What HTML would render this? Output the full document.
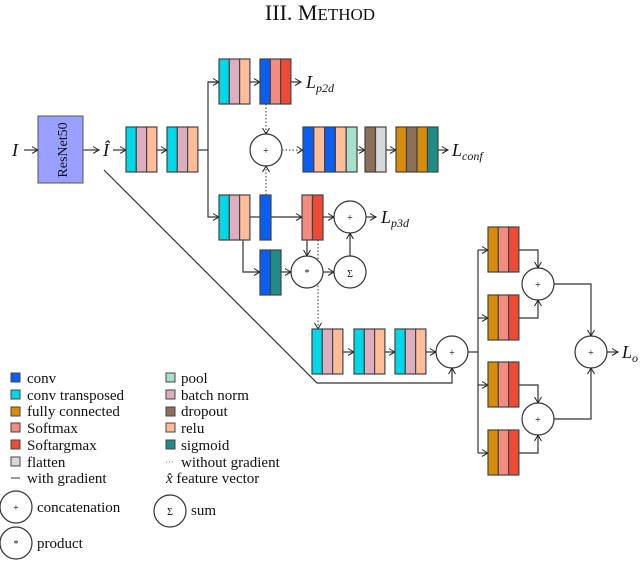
<!DOCTYPE html>
<html><head><meta charset="utf-8"><style>body{margin:0;background:#fff}svg{display:block}text{font-family:"Liberation Serif",serif;fill:#111}</style></head><body>
<svg width="640" height="561" viewBox="0 0 640 561" xmlns="http://www.w3.org/2000/svg">
<defs><marker id="a" markerWidth="8" markerHeight="8" refX="7" refY="4" orient="auto" markerUnits="userSpaceOnUse"><path d="M1,0.5 Q5,3 7,4 Q5,5 1,7.5" fill="none" stroke="#222" stroke-width="1"/></marker></defs>
<text x="320" y="20" text-anchor="middle" font-size="22">III. M<tspan font-size="17">ETHOD</tspan></text>
<g stroke="#333" stroke-width="1.2" fill="none">
<line x1="24" y1="150" x2="38" y2="150" marker-end="url(#a)"/>
<line x1="83" y1="150" x2="99" y2="150" marker-end="url(#a)"/>
<line x1="113" y1="150" x2="126" y2="150" marker-end="url(#a)"/>
<line x1="157" y1="150" x2="167" y2="150" marker-end="url(#a)"/>
<polyline points="198,150 208,150"/>
<polyline points="219,82 208,82 208,217 219,217" marker-end="url(#a)"/>
<line x1="208" y1="82" x2="219" y2="82" marker-end="url(#a)"/>
<line x1="250" y1="82" x2="260" y2="82" marker-end="url(#a)"/>
<line x1="291" y1="82" x2="301" y2="82" marker-end="url(#a)"/>
<line x1="357" y1="150" x2="365" y2="150" marker-end="url(#a)"/>
<line x1="386" y1="150" x2="396" y2="150" marker-end="url(#a)"/>
<line x1="438" y1="150" x2="448" y2="150" marker-end="url(#a)"/>
<line x1="250" y1="217" x2="260" y2="217"/>
<line x1="271" y1="217" x2="302" y2="217" marker-end="url(#a)"/>
<line x1="323" y1="217" x2="334" y2="217" marker-end="url(#a)"/>
<line x1="366" y1="217" x2="376" y2="217" marker-end="url(#a)"/>
<polyline points="243,240 243,272 260,272" marker-end="url(#a)"/>
<line x1="281" y1="272" x2="291" y2="272" marker-end="url(#a)"/>
<line x1="323" y1="272" x2="334" y2="272" marker-end="url(#a)"/>
<line x1="350" y1="256" x2="350" y2="233" marker-end="url(#a)"/>
<line x1="307" y1="240" x2="307" y2="256" marker-end="url(#a)"/>
<line x1="343" y1="352" x2="354" y2="352" marker-end="url(#a)"/>
<line x1="385" y1="352" x2="395" y2="352" marker-end="url(#a)"/>
<line x1="426" y1="352" x2="436" y2="352" marker-end="url(#a)"/>
<polyline points="104,170 317,383 452,383 452,368" marker-end="url(#a)"/>
<line x1="468" y1="352" x2="478" y2="352"/>
<line x1="478" y1="250" x2="478" y2="453"/>
<line x1="478" y1="250" x2="488" y2="250" marker-end="url(#a)"/>
<line x1="478" y1="318" x2="488" y2="318" marker-end="url(#a)"/>
<line x1="478" y1="385" x2="488" y2="385" marker-end="url(#a)"/>
<line x1="478" y1="453" x2="488" y2="453" marker-end="url(#a)"/>
<polyline points="519,250 538,250 538,268" marker-end="url(#a)"/>
<polyline points="519,318 538,318 538,300" marker-end="url(#a)"/>
<polyline points="519,385 538,385 538,403" marker-end="url(#a)"/>
<polyline points="519,453 538,453 538,435" marker-end="url(#a)"/>
<polyline points="554,284 591,284 591,336" marker-end="url(#a)"/>
<polyline points="554,419 591,419 591,368" marker-end="url(#a)"/>
<line x1="607" y1="352" x2="618" y2="352" marker-end="url(#a)"/>
<g stroke-dasharray="1.5,2" stroke-width="1">
<line x1="266" y1="104" x2="266" y2="134" marker-end="url(#a)"/>
<line x1="266" y1="195" x2="266" y2="166" marker-end="url(#a)"/>
<line x1="282" y1="150" x2="303" y2="150" marker-end="url(#a)"/>
<polyline points="318,240 318,310 318,329" marker-end="url(#a)"/>
</g>
<g fill="#fff">
<circle cx="266" cy="150" r="16"/><circle cx="350" cy="217" r="16"/><circle cx="307" cy="272" r="16"/><circle cx="350" cy="272" r="16"/>
<circle cx="452" cy="352" r="16"/><circle cx="538" cy="284" r="16"/><circle cx="538" cy="419" r="16"/><circle cx="591" cy="352" r="16"/>
<circle cx="16" cy="507" r="16"/><circle cx="170" cy="511" r="16"/><circle cx="16" cy="543" r="16"/>
</g>
</g>
<g font-size="10" text-anchor="middle" fill="#555"><text x="266" y="154">+</text><text x="350" y="221">+</text><text x="307" y="276">*</text><text x="350" y="277">Σ</text><text x="452" y="356">+</text><text x="538" y="288">+</text><text x="538" y="423">+</text><text x="591" y="356">+</text><text x="16" y="511">+</text><text x="170" y="515">Σ</text><text x="16" y="547">*</text></g>
<rect x="38" y="116" width="45" height="67" fill="#99a0ff" stroke="#555"/>
<text transform="translate(67,150) rotate(-90)" text-anchor="middle" font-size="14">ResNet50</text>
<g font-style="italic" font-size="18"><text x="12" y="156">I</text><text x="103" y="156">Î</text>
<text x="306" y="88">L<tspan font-size="12" dy="4">p2d</tspan></text>
<text x="452" y="156">L<tspan font-size="12" dy="4">conf</tspan></text>
<text x="381" y="223">L<tspan font-size="12" dy="4">p3d</tspan></text>
<text x="622" y="358">L<tspan font-size="12" dy="4">o</tspan></text></g>
<g stroke="#444" stroke-width="1.2" id="blocks">
<!-- helper stripes -->
<g transform="translate(126,127)"><rect width="10.3" height="45" fill="#00d8e8"/><rect x="10.3" width="10.3" height="45" fill="#dcaec0"/><rect x="20.6" width="10.3" height="45" fill="#ffbc98"/></g>
<g transform="translate(167,127)"><rect width="10.3" height="45" fill="#00d8e8"/><rect x="10.3" width="10.3" height="45" fill="#dcaec0"/><rect x="20.6" width="10.3" height="45" fill="#ffbc98"/></g>
<g transform="translate(219,59)"><rect width="10.3" height="45" fill="#00d8e8"/><rect x="10.3" width="10.3" height="45" fill="#dcaec0"/><rect x="20.6" width="10.3" height="45" fill="#ffbc98"/></g>
<g transform="translate(260,59)"><rect width="10.3" height="45" fill="#0a5ef0"/><rect x="10.3" width="10.3" height="45" fill="#f08c80"/><rect x="20.6" width="10.3" height="45" fill="#ee4a38"/></g>
<g transform="translate(303,127)"><rect width="10.8" height="45" fill="#0a5ef0"/><rect x="10.8" width="10.8" height="45" fill="#ffbc98"/><rect x="21.6" width="10.8" height="45" fill="#0a5ef0"/><rect x="32.4" width="10.8" height="45" fill="#ffbc98"/><rect x="43.2" width="10.8" height="45" fill="#a8e0cc"/></g>
<g transform="translate(365,127)"><rect width="10.5" height="45" fill="#8c7058"/><rect x="10.5" width="10.5" height="45" fill="#d8d8d8"/></g>
<g transform="translate(396,127)"><rect width="10.5" height="45" fill="#d88c0a"/><rect x="10.5" width="10.5" height="45" fill="#8c7058"/><rect x="21" width="10.5" height="45" fill="#d88c0a"/><rect x="31.5" width="10.5" height="45" fill="#208c88"/></g>
<g transform="translate(219,195)"><rect width="10.3" height="45" fill="#00d8e8"/><rect x="10.3" width="10.3" height="45" fill="#dcaec0"/><rect x="20.6" width="10.3" height="45" fill="#ffbc98"/></g>
<rect x="260" y="195" width="11" height="45" fill="#0a5ef0"/>
<g transform="translate(302,195)"><rect width="10.5" height="45" fill="#f08c80"/><rect x="10.5" width="10.5" height="45" fill="#ee4a38"/></g>
<g transform="translate(260,250)"><rect width="10.5" height="45" fill="#0a5ef0"/><rect x="10.5" width="10.5" height="45" fill="#208c88"/></g>
<g transform="translate(312,329)"><rect width="10.3" height="45" fill="#00d8e8"/><rect x="10.3" width="10.3" height="45" fill="#dcaec0"/><rect x="20.6" width="10.3" height="45" fill="#ffbc98"/></g>
<g transform="translate(354,329)"><rect width="10.3" height="45" fill="#00d8e8"/><rect x="10.3" width="10.3" height="45" fill="#dcaec0"/><rect x="20.6" width="10.3" height="45" fill="#ffbc98"/></g>
<g transform="translate(395,329)"><rect width="10.3" height="45" fill="#00d8e8"/><rect x="10.3" width="10.3" height="45" fill="#dcaec0"/><rect x="20.6" width="10.3" height="45" fill="#ffbc98"/></g>
<g transform="translate(488,227)"><rect width="10.3" height="45" fill="#d88c0a"/><rect x="10.3" width="10.3" height="45" fill="#f08c80"/><rect x="20.6" width="10.3" height="45" fill="#ee4a38"/></g>
<g transform="translate(488,295)"><rect width="10.3" height="45" fill="#d88c0a"/><rect x="10.3" width="10.3" height="45" fill="#f08c80"/><rect x="20.6" width="10.3" height="45" fill="#ee4a38"/></g>
<g transform="translate(488,362)"><rect width="10.3" height="45" fill="#d88c0a"/><rect x="10.3" width="10.3" height="45" fill="#f08c80"/><rect x="20.6" width="10.3" height="45" fill="#ee4a38"/></g>
<g transform="translate(488,430)"><rect width="10.3" height="45" fill="#d88c0a"/><rect x="10.3" width="10.3" height="45" fill="#f08c80"/><rect x="20.6" width="10.3" height="45" fill="#ee4a38"/></g>
<g stroke-width="1">
<rect x="11" y="373" width="9" height="9" fill="#0a5ef0"/><rect x="11" y="390" width="9" height="9" fill="#00d8e8"/><rect x="11" y="407" width="9" height="9" fill="#d88c0a"/><rect x="11" y="423" width="9" height="9" fill="#f08c80"/><rect x="11" y="440" width="9" height="9" fill="#ee4a38"/><rect x="11" y="457" width="9" height="9" fill="#d8d8d8"/>
<rect x="166" y="373" width="9" height="9" fill="#a8e0cc"/><rect x="166" y="390" width="9" height="9" fill="#dcaec0"/><rect x="166" y="407" width="9" height="9" fill="#8c7058"/><rect x="166" y="423" width="9" height="9" fill="#ffbc98"/><rect x="166" y="440" width="9" height="9" fill="#208c88"/>
</g></g>
<line x1="11" y1="478" x2="20" y2="478" stroke="#333"/>
<line x1="166" y1="462" x2="175" y2="462" stroke="#777" stroke-dasharray="1,2"/>
<g font-size="15"><text x="27" y="383">conv</text><text x="27" y="400">conv transposed</text><text x="27" y="416">fully connected</text><text x="27" y="433">Softmax</text><text x="27" y="450">Softargmax</text><text x="27" y="467">flatten</text><text x="27" y="483">with gradient</text>
<text x="181" y="383">pool</text><text x="181" y="400">batch norm</text><text x="181" y="416">dropout</text><text x="181" y="433">relu</text><text x="181" y="450">sigmoid</text><text x="181" y="467">without gradient</text><text x="166" y="483"><tspan font-style="italic">x̂</tspan>  feature vector</text>
<text x="37" y="512">concatenation</text><text x="191" y="515">sum</text><text x="37" y="548">product</text></g>
</svg>
</body></html>
